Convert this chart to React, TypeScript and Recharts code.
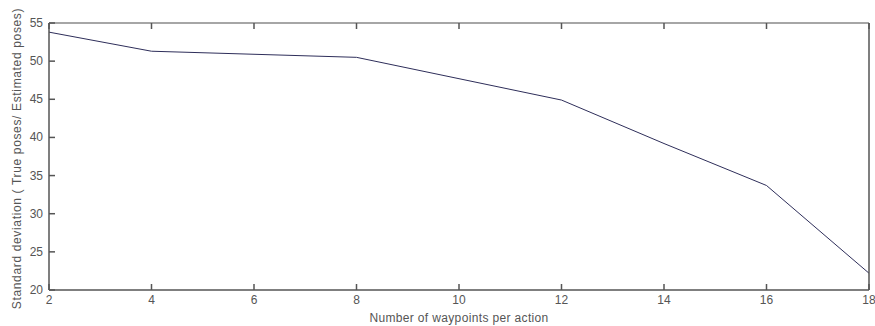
import { LineChart, Line, XAxis, YAxis, Label } from 'recharts';

const waypoints = [2, 4, 6, 8, 10, 12, 14, 16, 18];
const stdDev = [53.8, 51.3, 50.9, 50.5, 47.7, 44.9, 39.2, 33.7, 22.2];
const xTicks = [2, 4, 6, 8, 10, 12, 14, 16, 18];
const yTicks = [20, 25, 30, 35, 40, 45, 50, 55];

const data = waypoints.map((w, i) => ({ w, sd: stdDev[i] }));

const FRAME = '#555';
const TEXT = '#555';
const FONT = '"Liberation Sans", Arial, sans-serif';
const TICK = 6;
const TW = 1.5; // tick thickness

// matlab style ticks point into the plot. tickSize=0, so the x/y recharts hands in is axis pos +/- tickMargin
const bottomTick = (props: any) => {
  const { x, y, payload } = props;
  const axisY = Number(y) - 4;
  const cx = Number(x);
  return (
    <g>
      <rect x={cx - TW / 2} y={axisY - TICK} width={TW} height={TICK} fill={FRAME} />
      <text x={cx} y={axisY + 14} textAnchor="middle" fill={TEXT} fontSize={12} fontFamily={FONT}>
        {payload.value}
      </text>
    </g>
  );
};

const topTick = (props: any) => {
  const axisY = Number(props.y) + 4;
  const cx = Number(props.x);
  return <rect x={cx - TW / 2} y={axisY} width={TW} height={TICK} fill={FRAME} />;
};

const leftTick = (props: any) => {
  const { payload } = props;
  const axisX = Number(props.x) + 6;
  const cy = Number(props.y);
  return (
    <g>
      <rect x={axisX} y={cy - TW / 2} width={TICK} height={TW} fill={FRAME} />
      <text x={axisX - 6} y={cy + 4} textAnchor="end" fill={TEXT} fontSize={12} fontFamily={FONT}>
        {payload.value}
      </text>
    </g>
  );
};

const rightTick = (props: any) => {
  const axisX = Number(props.x) - 2;
  const cy = Number(props.y);
  return <rect x={axisX - TICK} y={cy - TW / 2} width={TICK} height={TW} fill={FRAME} />;
};

const YTitle = (props: any) => {
  const { viewBox } = props;
  const cx = 17;
  const cy = viewBox.y + viewBox.height / 2 + 2;
  return (
    <text
      x={cx}
      y={cy}
      transform={`rotate(-90 ${cx} ${cy})`}
      textAnchor="middle"
      dominantBaseline="central"
      fill={TEXT}
      fontSize={12}
      letterSpacing={0.65}
      fontFamily={FONT}
    >
      Standard deviation ( True poses/ Estimated poses)
    </text>
  );
};

export default function App() {
  return (
    <div style={{ position: 'absolute', left: 0, top: 0, background: '#fff' }}>
      <LineChart width={875} height={326} data={data} margin={{ top: 0, right: 0, bottom: 0, left: 0 }}>
        <XAxis
          dataKey="w"
          type="number"
          domain={[2, 18]}
          ticks={xTicks}
          height={36}
          tickSize={0}
          tickMargin={4}
          tickLine={false}
          axisLine={{ stroke: FRAME, strokeWidth: 1.5 }}
          tick={bottomTick}
          interval={0}
        >
          <Label
            value="Number of waypoints per action"
            position="insideBottom"
            offset={4}
            fill={TEXT}
            fontSize={12}
            letterSpacing={0.35}
            fontFamily={FONT}
          />
        </XAxis>
        <XAxis
          xAxisId="top"
          orientation="top"
          dataKey="w"
          type="number"
          domain={[2, 18]}
          ticks={xTicks}
          height={23}
          tickSize={0}
          tickMargin={4}
          tickLine={false}
          axisLine={{ stroke: '#888', strokeWidth: 1.5 }}
          tick={topTick}
          interval={0}
        />
        <YAxis
          type="number"
          domain={[20, 55]}
          ticks={yTicks}
          width={49}
          tickSize={0}
          tickMargin={6}
          tickLine={false}
          axisLine={{ stroke: FRAME, strokeWidth: 1.5 }}
          tick={leftTick}
          interval={0}
        >
          <Label content={<YTitle />} />
        </YAxis>
        <YAxis
          yAxisId="right"
          orientation="right"
          type="number"
          domain={[20, 55]}
          ticks={yTicks}
          width={6}
          tickSize={0}
          tickMargin={2}
          tickLine={false}
          axisLine={{ stroke: FRAME, strokeWidth: 1.5 }}
          tick={rightTick}
          interval={0}
        />
        <Line
          type="linear"
          dataKey="sd"
          stroke="#2e2e5a"
          strokeWidth={1}
          dot={false}
          isAnimationActive={false}
        />
      </LineChart>
    </div>
  );
}
